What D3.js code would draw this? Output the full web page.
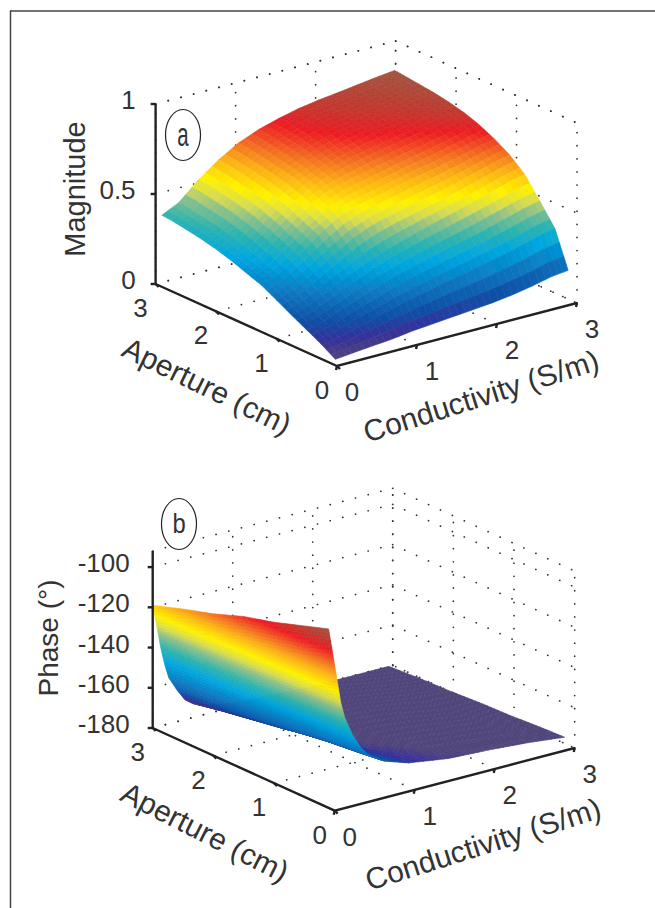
<!DOCTYPE html>
<html>
<head>
<meta charset="utf-8">
<script src="https://cdn.jsdelivr.net/npm/d3@7"></script>
<style>
    html, body { margin: 0; padding: 0; background: #fff; }
    svg { display: block; }
    text { font-family: "Liberation Sans", Arial, sans-serif; fill: #333; }
</style>
</head>
<body>
<svg id="fig" width="655" height="908"></svg>
<script>
// Values
const AXIS_TICKS = [0, 1, 2, 3];

const MAG_TICKS = [0, 0.5, 1];
const MAG_APERTURE = [0.08, 0.3, 0.55, 0.8, 1.05, 1.3, 1.55, 1.8, 2.05, 2.3, 2.55, 2.8, 2.95];
const MAG_CONDUCTIVITY = [0.04, 0.25, 0.5, 0.75, 1, 1.25, 1.5, 1.75, 2, 2.25, 2.5, 2.75, 2.95];
const MAGNITUDE = [
    [.020, .030, .040, .050, .065, .075, .085, .095, .105, .120, .140, .165, .175],
    [.066, .085, .114, .144, .175, .201, .225, .249, .271, .296, .324, .357, .375],
    [.111, .136, .179, .220, .261, .294, .324, .352, .378, .406, .437, .470, .490],
    [.155, .186, .241, .292, .343, .383, .418, .451, .481, .512, .544, .578, .600],
    [.201, .235, .301, .370, .435, .480, .510, .535, .560, .586, .617, .649, .670],
    [.246, .283, .359, .440, .510, .550, .575, .600, .625, .646, .673, .701, .720],
    [.276, .315, .396, .480, .555, .595, .620, .645, .670, .691, .716, .742, .760],
    [.307, .348, .434, .520, .590, .635, .665, .690, .712, .732, .750, .774, .790],
    [.332, .374, .466, .550, .620, .660, .695, .725, .745, .760, .776, .796, .810],
    [.352, .396, .490, .572, .638, .685, .722, .750, .765, .780, .794, .812, .825],
    [.367, .411, .507, .590, .655, .702, .738, .765, .780, .792, .807, .824, .835],
    [.381, .426, .525, .605, .669, .716, .750, .775, .792, .805, .820, .835, .845],
    [.385, .430, .530, .610, .675, .720, .752, .778, .796, .810, .825, .840, .850]
];

const PHASE_TICKS = [-180, -160, -140, -120, -100];
const PHASE_APERTURE = [0.1, 0.5, 1, 1.5, 2, 2.5, 3];
const PHASE_CONDUCTIVITY = [0, 0.06, 0.1, 0.15, 0.2, 0.3, 0.4, 0.5, 0.7, 1, 1.5, 2, 2.5, 2.95];
const PHASE = [
    [-91, -106, -116, -129, -137, -147, -154, -159, -164, -168, -171, -172, -173.5, -175.5],
    [-95, -110, -119, -131, -139, -149, -156, -160, -165.5, -169, -172, -173, -174, -176],
    [-100, -114, -124, -135, -142, -151, -158, -162, -167, -171, -173.5, -174.5, -175.5, -177],
    [-104, -118, -128, -139, -146, -154, -161, -165, -169, -173, -175, -176, -176.5, -177.5],
    [-109.5, -123, -132.5, -142.5, -149.5, -157.5, -164, -167.5, -171.5, -174.5, -176.5, -177.5, -178, -178.5],
    [-114, -127.5, -137, -146, -153, -161, -167, -170, -174, -176.5, -177.5, -178.5, -179, -179],
    [-119, -132, -141, -150, -157, -164, -170, -173, -176, -178, -179, -180, -180, -180]
];

// jet as it came out of the print conversion
const COLOR_STOPS = [0, 0.07, 0.14, 0.25, 0.36, 0.44, 0.52, 0.57, 0.63, 0.72, 0.78, 0.87, 0.93, 1];
const COLOR_VALUES = ['#50457a', '#35309a', '#0f4fa5', '#0a78c0', '#00a6e0', '#2bb3b0', '#8cc08a',
    '#d8dc50', '#fff200', '#fbb016', '#f47920', '#ed1c24', '#c0392f', '#a05440'];
const jet = d3.scaleLinear().domain(COLOR_STOPS).range(COLOR_VALUES).clamp(true);

const svg = d3.select('#fig');
const line = d3.line();

svg.append('path')
    .attr('d', 'M10.5,908V11H655')
    .attr('fill', 'none')
    .attr('stroke', '#444')
    .attr('stroke-width', 1.5);

const soft = svg.append('filter').attr('id', 'soft');
soft.append('feGaussianBlur').attr('stdDeviation', 0.45);

function drawPanel(cfg) {
    const g = svg.append('g');

    const apX = d3.scaleLinear().domain([0, 3]).range([0, cfg.apDx]);
    const apY = d3.scaleLinear().domain([0, 3]).range([0, cfg.apDy]);
    const cX = d3.scaleLinear().domain([0, 3]).range([0, cfg.cDx]);
    const cY = d3.scaleLinear().domain([0, 3]).range([0, cfg.cDy]);
    const zY = d3.scaleLinear().domain(cfg.zDomain).range(cfg.zRange);
    const project = (a, c, z) => [
        cfg.ox + apX(a) + cX(c),
        cfg.oy + apY(a) + cY(c) + zY(z)
    ];

    // dotted box grid
    const [zMin, zMax] = cfg.zDomain;
    const grid = [];
    AXIS_TICKS.forEach(t => {
        grid.push([project(t, 0, zMin), project(t, 3, zMin)]);
        grid.push([project(0, t, zMin), project(3, t, zMin)]);
        grid.push([project(3, t, zMin), project(3, t, zMax)]);
        grid.push([project(t, 3, zMin), project(t, 3, zMax)]);
    });
    cfg.zTicks.concat(zMax).forEach(z => {
        grid.push([project(3, 0, z), project(3, 3, z)]);
        grid.push([project(3, 3, z), project(0, 3, z)]);
    });
    g.append('g').selectAll('path').data(grid).enter().append('path')
        .attr('d', d => line(d))
        .attr('fill', 'none')
        .attr('stroke', '#333')
        .attr('stroke-width', 1.7)
        .attr('stroke-linecap', 'round')
        .attr('stroke-dasharray', cfg.dash);

    // surface, far cells first; each cell split into small flat facets
    const colorPos = d3.scaleLinear().domain(cfg.colorDomain).range(cfg.colorRange);
    const color = v => jet(colorPos(v));
    const facets = [];
    const n = cfg.split;
    cfg.values.forEach((row, i) => {
        if (i === cfg.values.length - 1) return;
        row.forEach((v, j) => {
            if (j === row.length - 1) return;
            const a0 = cfg.aperture[i], a1 = cfg.aperture[i + 1];
            const c0 = cfg.conductivity[j], c1 = cfg.conductivity[j + 1];
            const at = (u, w) => {
                const z = (1 - u) * ((1 - w) * v + w * row[j + 1])
                    + u * ((1 - w) * cfg.values[i + 1][j] + w * cfg.values[i + 1][j + 1]);
                return [a0 + u * (a1 - a0), c0 + w * (c1 - c0), z];
            };
            for (let p = 0; p < n; p++) {
                for (let q = 0; q < n; q++) {
                    const corners = [at(p / n, q / n), at((p + 1) / n, q / n),
                        at((p + 1) / n, (q + 1) / n), at(p / n, (q + 1) / n)];
                    const mid = at((p + .5) / n, (q + .5) / n);
                    facets.push({
                        pts: corners.map(d => project(d[0], d[1], d[2])),
                        z: d3.mean(corners, d => d[2]),
                        depth: -(apY(mid[0]) + cY(mid[1]))
                    });
                }
            }
        });
    });
    facets.sort((x, y) => y.depth - x.depth);
    g.append('g').attr('filter', 'url(#soft)').selectAll('path').data(facets).enter().append('path')
        .attr('d', d => line(d.pts) + 'Z')
        .attr('fill', d => color(d.z))
        .attr('stroke', d => color(d.z))
        .attr('stroke-width', 0.6);

    // axes
    const axes = g.append('g').attr('fill', 'none').attr('stroke', '#222').attr('stroke-width', 2.4);
    axes.append('path').attr('d', line([project(3, 0, zMin), project(3, 0, cfg.zAxisTop)]));
    axes.append('path').attr('d', line([project(3, 0, zMin), project(0, 0, zMin), project(0, 3, zMin)]));
    cfg.zTicks.forEach(z => {
        const [x, y] = project(3, 0, z);
        axes.append('path').attr('d', line([[x, y], [x - 5, y]]));
    });
    AXIS_TICKS.forEach(t => {
        const [ax, ay] = project(t, 0, zMin);
        axes.append('path').attr('d', line([[ax, ay], [ax + 3, ay + 3]]));
        const [cx, cy] = project(0, t, zMin);
        axes.append('path').attr('d', line([[cx, cy], [cx - 1, cy + 4]]));
    });

    // tick labels
    const tick = (x, y, s, anchor) => g.append('text')
        .attr('x', x).attr('y', y).attr('dy', '0.35em')
        .attr('text-anchor', anchor || 'middle')
        .style('font-size', '26px')
        .text(s);
    cfg.zTicks.forEach(z => {
        const [x, y] = project(3, 0, z);
        tick(x + cfg.zLabelDx, y + cfg.zLabelDy, cfg.zFormat(z), 'end');
    });
    AXIS_TICKS.forEach(t => {
        const [ax, ay] = project(t, 0, zMin);
        tick(ax - 15, ay + cfg.apLabelDy, t);
        const [cx, cy] = project(0, t, zMin);
        tick(cx + 15, cy + cfg.cLabelDy, t);
    });

    // axis titles
    cfg.titles.forEach(d => {
        g.append('text')
            .attr('transform', `translate(${d.x},${d.y}) rotate(${d.rotate})`)
            .attr('dy', '0.35em')
            .attr('text-anchor', 'middle')
            .style('font-size', d.size + 'px')
            .text(d.text);
    });

    // panel letter
    const tag = cfg.tag;
    g.append('ellipse')
        .attr('cx', tag.x).attr('cy', tag.y)
        .attr('rx', 17.5).attr('ry', 25.5)
        .attr('fill', '#fff')
        .attr('stroke', '#222')
        .attr('stroke-width', 1.2);
    g.append('text')
        .attr('transform', `translate(${tag.x},${tag.y}) scale(${tag.sx},1)`)
        .attr('dy', '0.33em')
        .attr('text-anchor', 'middle')
        .style('font-size', tag.size + 'px')
        .text(tag.text);
}

drawPanel({
    ox: 337, oy: 366,
    apDx: -181.4, apDy: -82,
    cDx: 240, cDy: -63,
    zDomain: [0, 1], zRange: [0, -180], zAxisTop: 1,
    zTicks: MAG_TICKS,
    zFormat: z => String(z),
    zLabelDx: -20, zLabelDy: -4,
    apLabelDy: 24, cLabelDy: 26,
    aperture: MAG_APERTURE,
    conductivity: MAG_CONDUCTIVITY,
    values: MAGNITUDE,
    colorDomain: [0.02, 0.85],
    colorRange: [0, 1],
    split: 3,
    dash: '0.1 13',
    titles: [
        { text: 'Magnitude', x: 75, y: 189, rotate: -90, size: 29 },
        { text: 'Aperture (cm)', x: 207, y: 386, rotate: 26, size: 30 },
        { text: 'Conductivity (S/m)', x: 481, y: 396, rotate: -17.5, size: 30 }
    ],
    tag: { text: 'a', x: 183, y: 135, size: 33, sx: 0.62 }
});

drawPanel({
    ox: 334.7, oy: 810.7,
    apDx: -182, apDy: -82.7,
    cDx: 240, cDy: -62.7,
    zDomain: [-180, -92], zRange: [0, -177], zAxisTop: -92,
    zTicks: PHASE_TICKS,
    zFormat: z => '-' + Math.abs(z),
    zLabelDx: -23, zLabelDy: -4,
    apLabelDy: 24, cLabelDy: 26,
    aperture: PHASE_APERTURE,
    conductivity: PHASE_CONDUCTIVITY,
    values: PHASE,
    // the flat floor prints as one dusky tone, so the low end of the ramp is compressed
    colorDomain: [-172, -163, -91],
    colorRange: [0, 0.19, 1],
    split: 8,
    dash: '0.1 13',
    titles: [
        { text: 'Phase (°)', x: 48, y: 638, rotate: -90, size: 28 },
        { text: 'Aperture (cm)', x: 205, y: 832, rotate: 27, size: 30 },
        { text: 'Conductivity (S/m)', x: 483, y: 844, rotate: -17.5, size: 30 }
    ],
    tag: { text: 'b', x: 179, y: 524, size: 28, sx: 0.85 }
});
</script>
</body>
</html>
